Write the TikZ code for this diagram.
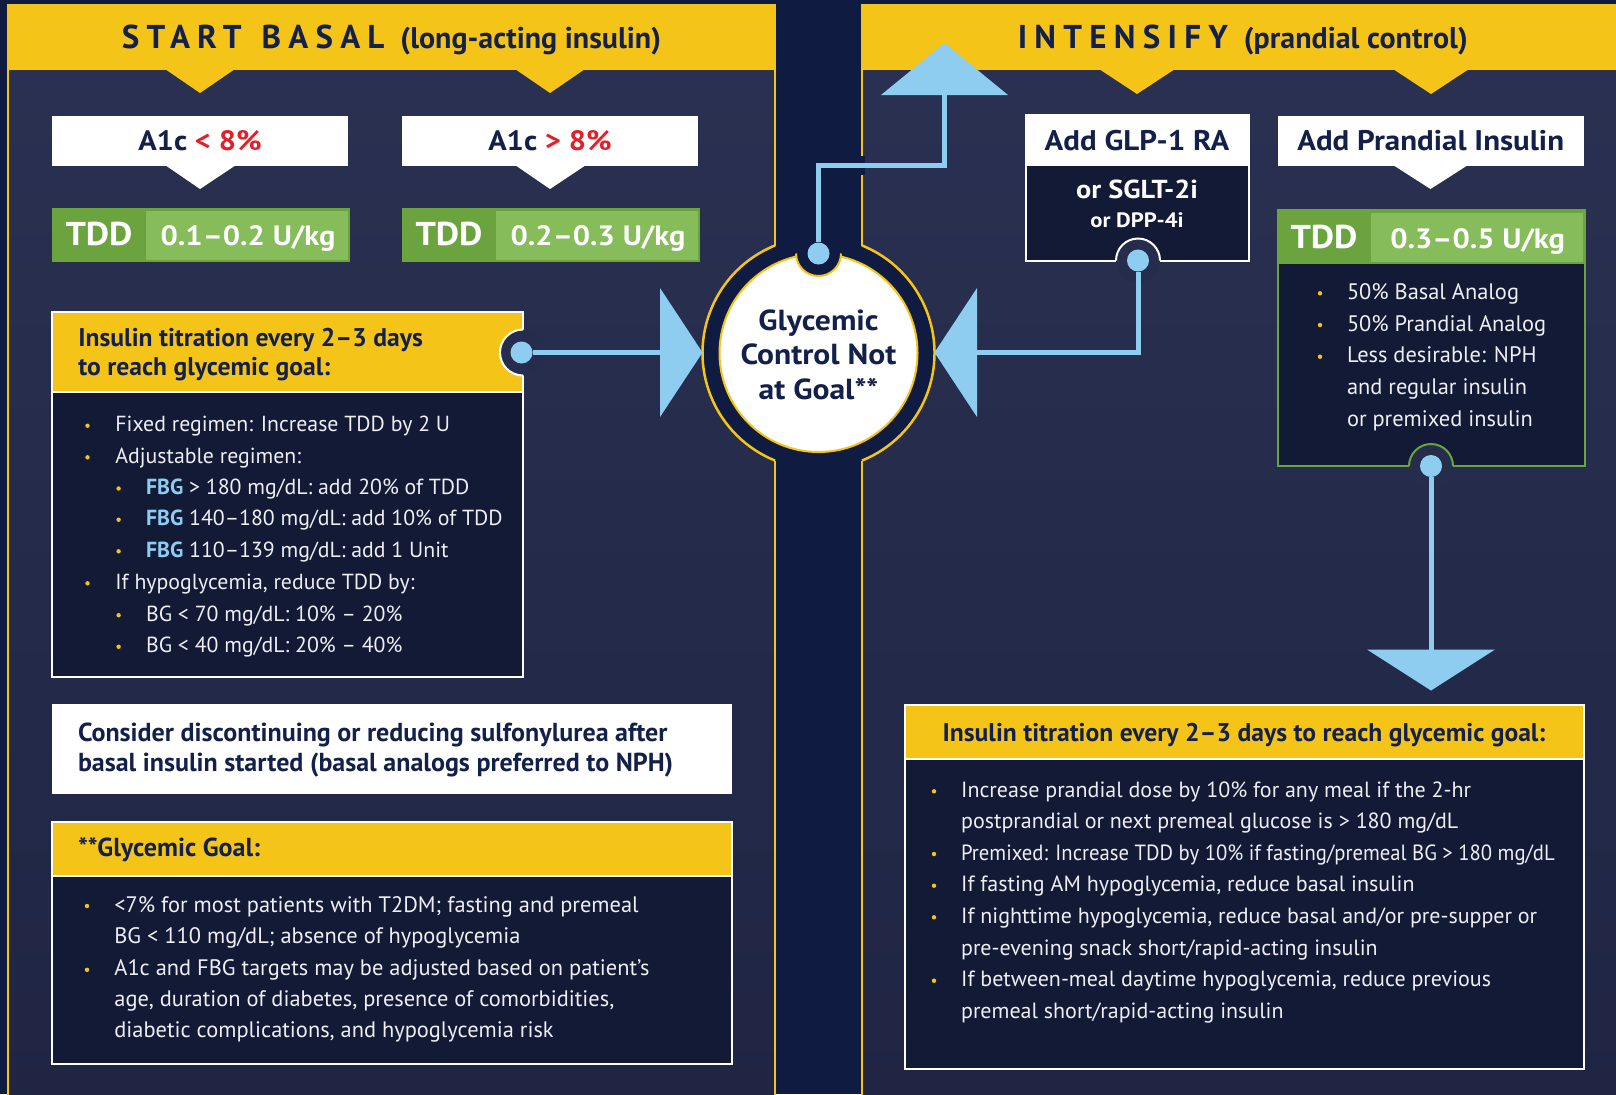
\documentclass[tikz,border=0pt]{standalone}
\usepackage{fontspec}
\setmainfont{PT Sans}
\newfontfamily\spacedfont[LetterSpace=22]{PT Sans}
\newfontfamily\widefont[FakeStretch=1.09]{PT Sans}
\newfontfamily\narrowfont[FakeStretch=0.94]{PT Sans}
\usetikzlibrary{calc}

\definecolor{yel}{HTML}{F5C419}
\definecolor{navy}{HTML}{13204A}
\definecolor{colbg}{HTML}{0F1B41}
\definecolor{pantop}{HTML}{2A3152}
\definecolor{panbot}{HTML}{1F2543}
\definecolor{notchbg}{HTML}{262D4C}
\definecolor{boxbg}{HTML}{121A36}
\definecolor{lblue}{HTML}{8FCDF0}
\definecolor{gdark}{HTML}{6BA33E}
\definecolor{glight}{HTML}{86BC5A}
\definecolor{redtxt}{HTML}{E0202A}
\definecolor{txtw}{HTML}{EEEEF3}

\newcommand{\fbg}{\textcolor{lblue}{\bfseries FBG}}

\begin{document}
\begin{tikzpicture}[x=0.5pt,y=-0.5pt,
    ybord/.style={draw=yel,line width=1.25pt},
    wbord/.style={draw=white,line width=1pt},
    conn/.style={draw=lblue,line width=2.5pt},
    bluedot/.style={circle,fill=lblue,inner sep=0pt,minimum size=11pt},
    ydot/.style={circle,fill=yel,inner sep=0pt,minimum size=2.2pt},
    body/.style={anchor=base west,inner sep=0pt,text=txtw,font=\fontsize{10.9}{12}\selectfont},
    hdr/.style={anchor=base west,inner sep=0pt,text=navy,font=\bfseries\fontsize{12.8}{14}\selectfont},
    boxttl/.style={anchor=base,inner sep=0pt,text=navy,font=\widefont\bfseries\fontsize{14.2}{16}\selectfont},
    tddtxt/.style={anchor=base,inner sep=0pt,text=white,font=\widefont\bfseries\fontsize{16.5}{18}\selectfont},
    valtxt/.style={anchor=base,inner sep=0pt,text=white,font=\widefont\bfseries\fontsize{14}{16}\selectfont}]
\useasboundingbox (0,0) rectangle (1616,1094);
\clip (0,0) rectangle (1616,1094);

% backdrop and the two panels
\fill[colbg] (0,0) rectangle (1616,1094);
\shade[top color=pantop,bottom color=panbot] (8,5) rectangle (775,1100);
\shade[top color=pantop,bottom color=panbot] (862,5) rectangle (1630,1100);
\coordinate (c) at (818.5,353);
\fill[colbg] (c) circle[radius=116];
\fill[yel] (8,5) rectangle (775,70);
\fill[yel] (862,5) rectangle (1630,70);
\draw[ybord] (775,245.5) -- (775,5) -- (8,5) -- (8,1100);
\draw[ybord] (775,460.5) -- (775,1100);
\draw[ybord] (862,245.5) -- (862,5) -- (1630,5);
\draw[ybord] (862,460.5) -- (862,1100);
\draw[ybord] (c) ++(248:116) arc[start angle=248,end angle=112,radius=116];
\draw[ybord] (c) ++(-68:116) arc[start angle=-68,end angle=68,radius=116];

% header chevrons
\fill[yel] (165,69) -- (235,69) -- (200,93) -- cycle;
\fill[yel] (515,69) -- (585,69) -- (550,93) -- cycle;
\fill[yel] (1099,69) -- (1175,69) -- (1137,94) -- cycle;
\fill[yel] (1393,69) -- (1469,69) -- (1431,94) -- cycle;

\node[anchor=base,inner sep=0pt,text=navy] (ttlL) at (391.5,48.3)
  {{\spacedfont\bfseries\fontsize{16.5}{16}\selectfont START\hspace{10pt}BASAL}\hspace{8pt}{\bfseries\fontsize{15}{16}\selectfont(long-acting insulin)}};
\node[anchor=base,inner sep=0pt,text=navy] (ttlR) at (1242.8,48.3)
  {{\spacedfont\bfseries\fontsize{16.5}{16}\selectfont INTENSIFY}\hspace{8pt}{\bfseries\fontsize{15}{16}\selectfont(prandial control)}};

% centre circle
\node[circle,fill=white,draw=yel,line width=1pt,minimum size=99pt,inner sep=0pt] (goal) at (c) {};
\fill[colbg] (818.5,253.5) circle[radius=22.5];
\draw[yel,line width=1pt] (818.5,253.5) ++(0:22.5) arc[start angle=0,end angle=180,radius=22.5];
\node[boxttl,font=\widefont\bfseries\fontsize{14.5}{16}\selectfont] (g1) at (818.5,330) {Glycemic};
\node[boxttl,font=\widefont\bfseries\fontsize{14.5}{16}\selectfont] (g2) at (818.5,364.5) {Control Not};
\node[boxttl,font=\widefont\bfseries\fontsize{14.5}{16}\selectfont] (g3) at (818.5,399.3) {at Goal**};

% A1c and TDD boxes
\fill[white] (51.5,115.5) rectangle (348,165.5);
\fill[white] (402,115.5) rectangle (698,165.5);
\fill[white] (165,165) -- (236,165) -- (200,189) -- cycle;
\fill[white] (515,165) -- (586,165) -- (550,189) -- cycle;
\node[boxttl,font=\widefont\bfseries\fontsize{14}{16}\selectfont] (a1lo) at (200,150.7) {A1c \textcolor{redtxt}{< 8\%}};
\node[boxttl,font=\widefont\bfseries\fontsize{14}{16}\selectfont] (a1hi) at (550,150.7) {A1c \textcolor{redtxt}{> 8\%}};

\fill[gdark] (51.5,208) rectangle (349.5,262);
\fill[glight] (146,210.5) rectangle (347.5,259.5);
\fill[gdark] (402,208) rectangle (700,262);
\fill[glight] (496,210.5) rectangle (698,259.5);
\node[tddtxt] (tdd1) at (99,245) {TDD};
\node[valtxt] (v1) at (248,245) {0.1–0.2 U/kg};
\node[tddtxt] (tdd2) at (449,245) {TDD};
\node[valtxt] (v2) at (598,245) {0.2–0.3 U/kg};

% basal titration box
\fill[boxbg] (51.5,311.5) rectangle (523,677);
\fill[yel] (51.5,311.5) rectangle (523,392);
\draw[wbord] (51.5,311.5) rectangle (523,677);
\draw[wbord] (51.5,392) -- (523,392);
\fill[notchbg] (523,352.5) circle[radius=23];
\draw[white,line width=1pt] (523,352.5) ++(90:23) arc[start angle=90,end angle=270,radius=23];
\node[hdr] (h1) at (78,346.7) {Insulin titration every 2–3 days};
\node[hdr] (h2) at (78,375) {to reach glycemic goal:};
\foreach \x/\y [count=\i] in {87.5/431.7,87.5/463.3,118.6/494.5,118.6/525.7,118.6/557.3,87.5/589.3,118.6/621.2,118.6/652.7}
  \node[ydot] (lb\i) at (\x,\y-6) {};
\node[body] (l1) at (115,431.7) {Fixed regimen: Increase TDD by 2 U};
\node[body] (l2) at (115,463.3) {Adjustable regimen:};
\node[body] (l3) at (145.7,494.5) {\fbg{} > 180 mg/dL: add 20\% of TDD};
\node[body] (l4) at (145.7,525.7) {\fbg{} 140–180 mg/dL: add 10\% of TDD};
\node[body] (l5) at (145.7,557.3) {\fbg{} 110–139 mg/dL: add 1 Unit};
\node[body] (l6) at (115,589.3) {If hypoglycemia, reduce TDD by:};
\node[body] (l7) at (145.7,621.2) {BG < 70 mg/dL: 10\% – 20\%};
\node[body] (l8) at (145.7,652.7) {BG < 40 mg/dL: 20\% – 40\%};

% sulfonylurea note
\fill[white] (51.5,704) rectangle (731.5,793.5);
\node[hdr,font=\bfseries\fontsize{13}{14}\selectfont] (s1) at (77.6,741.7) {Consider discontinuing or reducing sulfonylurea after};
\node[hdr,font=\bfseries\fontsize{13}{14}\selectfont] (s2) at (77.6,771) {basal insulin started (basal analogs preferred to NPH)};

% glycemic goal box
\fill[boxbg] (51.5,821.5) rectangle (731.5,1063.5);
\fill[yel] (51.5,821.5) rectangle (731.5,876);
\draw[wbord] (51.5,821.5) rectangle (731.5,1063.5);
\draw[wbord] (51.5,876) -- (731.5,876);
\node[hdr,font=\bfseries\fontsize{13}{14}\selectfont] (gg) at (77.6,856.7) {**Glycemic Goal:};
\foreach \y [count=\i] in {912,975.8}
  \node[ydot] (gb\i) at (87,\y-6) {};
\node[body,font=\fontsize{11.2}{12}\selectfont] (q1) at (114,912) {<7\% for most patients with T2DM; fasting and premeal};
\node[body,font=\fontsize{11.2}{12}\selectfont] (q2) at (114,943.8) {BG < 110 mg/dL; absence of hypoglycemia};
\node[body,font=\fontsize{11.2}{12}\selectfont] (q3) at (114,975.8) {A1c and FBG targets may be adjusted based on patient’s};
\node[body,font=\fontsize{11.2}{12}\selectfont] (q4) at (114,1006.7) {age, duration of diabetes, presence of comorbidities,};
\node[body,font=\fontsize{11.2}{12}\selectfont] (q5) at (114,1037.6) {diabetic complications, and hypoglycemia risk};

% GLP-1 box
\fill[boxbg] (1025.5,115) rectangle (1248.5,260.5);
\fill[white] (1025.5,115) rectangle (1248.5,166);
\draw[wbord] (1025.5,115) rectangle (1248.5,260.5);
\fill[notchbg] (1138,260.5) circle[radius=22];
\draw[white,line width=1pt] (1138,260.5) ++(180:22) arc[start angle=180,end angle=360,radius=22];
\node[boxttl] (glp) at (1137,150.7) {Add GLP-1 RA};
\node[valtxt,font=\widefont\bfseries\fontsize{13}{14}\selectfont] (sglt) at (1137,198.3) {or SGLT-2i};
\node[valtxt,font=\widefont\bfseries\fontsize{10.4}{12}\selectfont] (dpp) at (1137,227.3) {or DPP-4i};

% prandial insulin box
\fill[white] (1277.5,115.5) rectangle (1584,165.5);
\fill[white] (1393,165) -- (1468,165) -- (1430.5,189) -- cycle;
\node[boxttl] (pri) at (1430.7,150.7) {Add Prandial Insulin};
\fill[boxbg] (1278,264) rectangle (1584.5,466);
\draw[gdark,line width=1pt] (1278,210) rectangle (1584.5,466);
\fill[gdark] (1278,210) rectangle (1584.5,264);
\fill[glight] (1370.5,212.5) rectangle (1582.5,261.5);
\fill[notchbg] (1431,466) circle[radius=22];
\draw[gdark,line width=1pt] (1431,466) ++(180:22) arc[start angle=180,end angle=360,radius=22];
\node[tddtxt] (tdd3) at (1324,248.3) {TDD};
\node[valtxt] (v3) at (1477.6,248.3) {0.3–0.5 U/kg};
\foreach \y [count=\i] in {299.3,331,362.7}
  \node[ydot] (pb\i) at (1320,\y-6) {};
\node[body,font=\fontsize{11.2}{12}\selectfont] (p1) at (1346.6,299.3) {50\% Basal Analog};
\node[body,font=\fontsize{11.2}{12}\selectfont] (p2) at (1346.6,331) {50\% Prandial Analog};
\node[body,font=\fontsize{11.2}{12}\selectfont] (p3) at (1346.6,362.7) {Less desirable: NPH};
\node[body,font=\fontsize{11.2}{12}\selectfont] (p4) at (1346.6,394.5) {and regular insulin};
\node[body,font=\fontsize{11.2}{12}\selectfont] (p5) at (1346.6,426.3) {or premixed insulin};

% prandial titration box
\fill[boxbg] (904.5,704.5) rectangle (1583.5,1068.5);
\fill[yel] (904.5,704.5) rectangle (1583.5,759);
\draw[wbord] (904.5,704.5) rectangle (1583.5,1068.5);
\draw[wbord] (904.5,759) -- (1583.5,759);
\node[hdr,anchor=base] (rh) at (1244,741.7) {Insulin titration every 2–3 days to reach glycemic goal:};
\foreach \y [count=\i] in {797.3,860,891.7,923.3,986.7}
  \node[ydot] (rb\i) at (934,\y-6) {};
\node[body,font=\fontsize{11}{12}\selectfont] (r1) at (960.7,797.3) {Increase prandial dose by 10\% for any meal if the 2-hr};
\node[body,font=\fontsize{11}{12}\selectfont] (r2) at (960.7,828) {postprandial or next premeal glucose is > 180 mg/dL};
\node[body,font=\narrowfont\fontsize{11}{12}\selectfont] (r3) at (960.7,860) {Premixed: Increase TDD by 10\% if fasting/premeal BG > 180 mg/dL};
\node[body,font=\fontsize{11}{12}\selectfont] (r4) at (960.7,891.7) {If fasting AM hypoglycemia, reduce basal insulin};
\node[body,font=\fontsize{11}{12}\selectfont] (r5) at (960.7,923.3) {If nighttime hypoglycemia, reduce basal and/or pre-supper or};
\node[body,font=\fontsize{11}{12}\selectfont] (r6) at (960.7,955) {pre-evening snack short/rapid-acting insulin};
\node[body,font=\fontsize{11}{12}\selectfont] (r7) at (960.7,986.7) {If between-meal daytime hypoglycemia, reduce previous};
\node[body,font=\fontsize{11}{12}\selectfont] (r8) at (960.7,1018.3) {premeal short/rapid-acting insulin};

% connectors and arrows
\coordinate (arrL) at (660,352.5);
\coordinate (arrR) at (977,352.5);
\coordinate (arrU) at (944.5,95);
\coordinate (bendU) at (944.5,165);
\coordinate (arrD) at (1431,649.5);
\node[bluedot] (dotL) at (521.5,352.5) {};
\node[bluedot] (dotC) at (818.5,253.5) {};
\node[bluedot] (dotG) at (1138,260.5) {};
\node[bluedot] (dotP) at (1431,466) {};
\fill[colbg] (859,156) rectangle (865,175);
\draw[conn] (dotL) -- (arrL);
\draw[conn] (dotC) |- (bendU) -- (arrU);
\draw[conn] (arrR) -| (dotG);
\draw[conn] (dotP) -- (arrD);
\fill[lblue] ($(arrL)+(0,-64.5)$) -- ($(arrL)+(0,64.5)$) -- ($(arrL)+(42.5,0)$) -- cycle;
\fill[lblue] ($(arrR)+(0,-64.5)$) -- ($(arrR)+(0,64.5)$) -- ($(arrR)+(-42.5,0)$) -- cycle;
\fill[lblue] ($(arrU)+(-63.5,0)$) -- ($(arrU)+(63.5,0)$) -- ($(arrU)+(0,-52)$) -- cycle;
\fill[lblue] ($(arrD)+(-64,0)$) -- ($(arrD)+(64,0)$) -- ($(arrD)+(0,41)$) -- cycle;
\end{tikzpicture}
\end{document}
